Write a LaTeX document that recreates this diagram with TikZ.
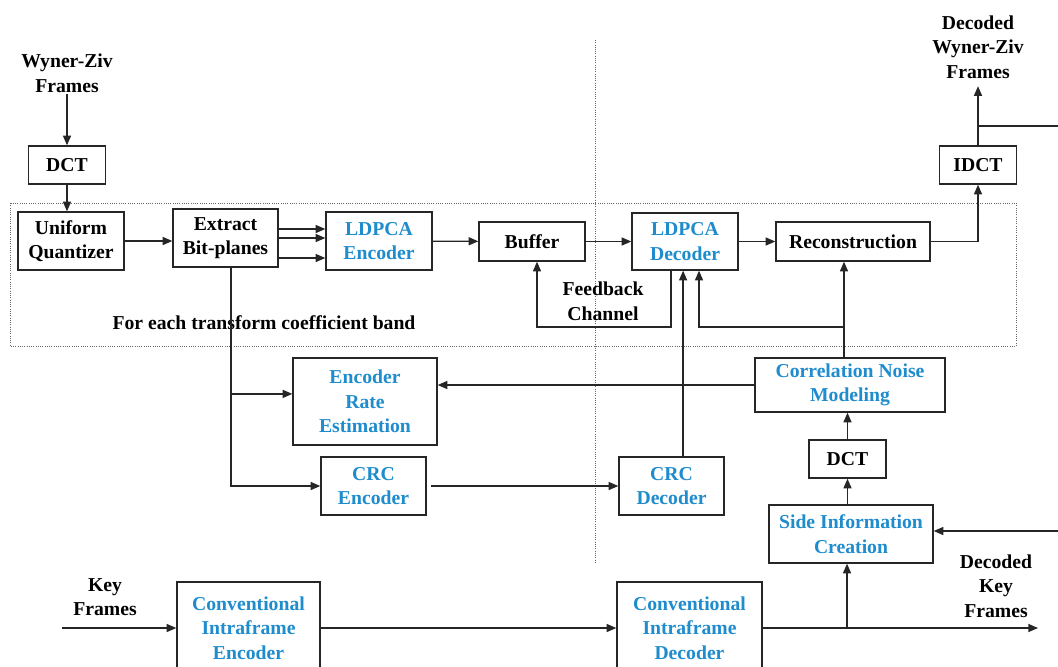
\documentclass[tikz,border=0pt]{standalone}
\usepackage{fontspec}
\setmainfont{Liberation Serif}
\usetikzlibrary{arrows.meta,positioning}
\definecolor{codecblue}{RGB}{30,140,205}

\begin{document}
\begin{tikzpicture}[
font=\fontsize{14}{17.5}\selectfont\bfseries,
unit/.style={draw=black!85,line width=1pt,fill=white,align=center,inner sep=1mm},
codec/.style={unit,text=codecblue},
flow/.style={-{Triangle[length=2.4mm,width=2mm]},line width=0.9pt,draw=black!85},
link/.style={line width=0.9pt,draw=black!85},
divider/.style={densely dotted,line width=0.6pt,draw=black!60},
caption/.style={align=center,inner sep=1pt}]
\clip (0,0) rectangle (26.45,-16.65);
\draw[divider] (0.25,-5.075) rectangle (25.4,-8.65);
\draw[divider] (14.875,-1) -- (14.875,-14.05);
% Wyner-Ziv path
\node[caption] (wzin) at (1.675,-1.825) {Wyner-Ziv\\Frames};
\node[unit,minimum width=1.925cm,minimum height=0.95cm] (dcta) at (1.675,-4.125) {DCT};
\node[unit,minimum width=2.65cm,minimum height=1.45cm] (quant) at (1.775,-6.025) {Uniform\\Quantizer};
\node[unit,minimum width=2.625cm,minimum height=1.45cm] (extract) at (5.6375,-5.95) {Extract\\Bit-planes};
\node[codec,minimum width=2.65cm,minimum height=1.45cm] (ldpcaenc) at (9.475,-6.025) {LDPCA\\Encoder};
\node[unit,minimum width=2.65cm,minimum height=0.975cm] (buffer) at (13.3,-6.0375) {Buffer};
\node[codec,minimum width=2.65cm,minimum height=1.425cm] (ldpcadec) at (17.125,-6.0375) {LDPCA\\Decoder};
\node[unit,minimum width=3.85cm,minimum height=0.975cm] (recon) at (21.325,-6.0375) {Reconstruction};
\node[unit,minimum width=1.925cm,minimum height=0.95cm] (idct) at (24.45,-4.125) {IDCT};
\node[caption] (wzout) at (24.45,-1.175) {Decoded\\Wyner-Ziv\\Frames};
\node[caption] (bandnote) at (6.6,-8.075) {For each transform coefficient band};
\node[caption] (fbnote) at (15.075,-7.525) {Feedback\\Channel};
\node[codec,minimum width=3.6cm,minimum height=2.175cm] (ere) at (9.125,-10.0375) {Encoder\\Rate\\Estimation};
\node[codec,minimum width=4.75cm,minimum height=1.35cm] (cnm) at (21.25,-9.625) {Correlation Noise\\Modeling};
\node[codec,minimum width=2.625cm,minimum height=1.45cm] (crcenc) at (9.3375,-12.15) {CRC\\Encoder};
\node[codec,minimum width=2.625cm,minimum height=1.45cm] (crcdec) at (16.7875,-12.15) {CRC\\Decoder};
\node[unit,minimum width=1.925cm,minimum height=0.95cm] (dctb) at (21.1875,-11.475) {DCT};
\node[codec,minimum width=4.1cm,minimum height=1.45cm] (sic) at (21.275,-13.35) {Side Information\\Creation};
% key frame path
\node[caption] (keyin) at (2.625,-14.925) {Key\\Frames};
\node[codec,minimum width=3.575cm,minimum height=2.3cm] (cie) at (6.2125,-15.7) {Conventional\\Intraframe\\Encoder};
\node[codec,minimum width=3.625cm,minimum height=2.3cm] (cid) at (17.2375,-15.7) {Conventional\\Intraframe\\Decoder};
\node[caption] (keyout) at (24.9,-14.65) {Decoded\\Key\\Frames};
\coordinate (wzbranch) at (26.45,-3.15);
\coordinate (sideref) at (26.45,-13.275);
\coordinate (keysrc) at (1.55,-15.7);
\coordinate (keysink) at (25.95,-15.7);
\coordinate (fbturn) at (0,-8.175);
\coordinate (tap) at ([xshift=1.4mm]extract.south);
\coordinate (erein) at ([yshift=1.9mm]ere.west);
% connectors
\draw[flow] (wzin) -- (dcta);
\draw[flow] (dcta.south) -- (dcta.south |- quant.north);
\draw[flow] (quant.east) -- (quant.east -| extract.west);
\foreach \dy in {2.25mm,0mm,-5mm}
  \draw[flow] ([yshift=\dy]extract.east) -- ([yshift=\dy]extract.east -| ldpcaenc.west);
\draw[flow] (ldpcaenc) -- (buffer);
\draw[flow] (buffer) -- (ldpcadec);
\draw[flow] (ldpcadec) -- (recon);
\draw[flow] (recon.east) -| (idct.south);
\draw[flow,shorten >=1.5mm] (idct.north) -- (wzout.south);
\draw[link] (idct.north |- wzbranch) -- (wzbranch);
\draw[flow] ([xshift=-3.5mm]ldpcadec.south) |- ([xshift=1.25mm]buffer.south |- fbturn) -- ([xshift=1.25mm]buffer.south);
\draw[flow] ([xshift=2.9mm]crcdec.north) -- ([xshift=2.9mm]crcdec.north |- ldpcadec.south);
\draw[flow] ([xshift=-1.5mm]cnm.north) -- ([xshift=-1.5mm]cnm.north |- recon.south);
\draw[flow] ([xshift=-1.5mm]cnm.north |- fbturn) -| ([xshift=3.5mm]ldpcadec.south);
\draw[flow] (cnm.west) -- (cnm.west -| ere.east);
\draw[flow] (tap) |- (crcenc.west);
\draw[flow] (tap |- erein) -- (erein);
\draw[flow,shorten <=1mm] (crcenc.east) -- (crcdec.west);
\draw[flow] (dctb.north) -- (dctb.north |- cnm.south);
\draw[flow] (dctb.south |- sic.north) -- (dctb.south);
\draw[flow] (sideref) -- (sideref -| sic.east);
\draw[flow] (keysrc) -- (cie.west);
\draw[flow] (cie) -- (cid);
\draw[flow] (cid.east) -- (keysink);
\draw[flow] ([xshift=-1mm]sic.south |- cid.east) -- ([xshift=-1mm]sic.south);
\end{tikzpicture}
\end{document}
